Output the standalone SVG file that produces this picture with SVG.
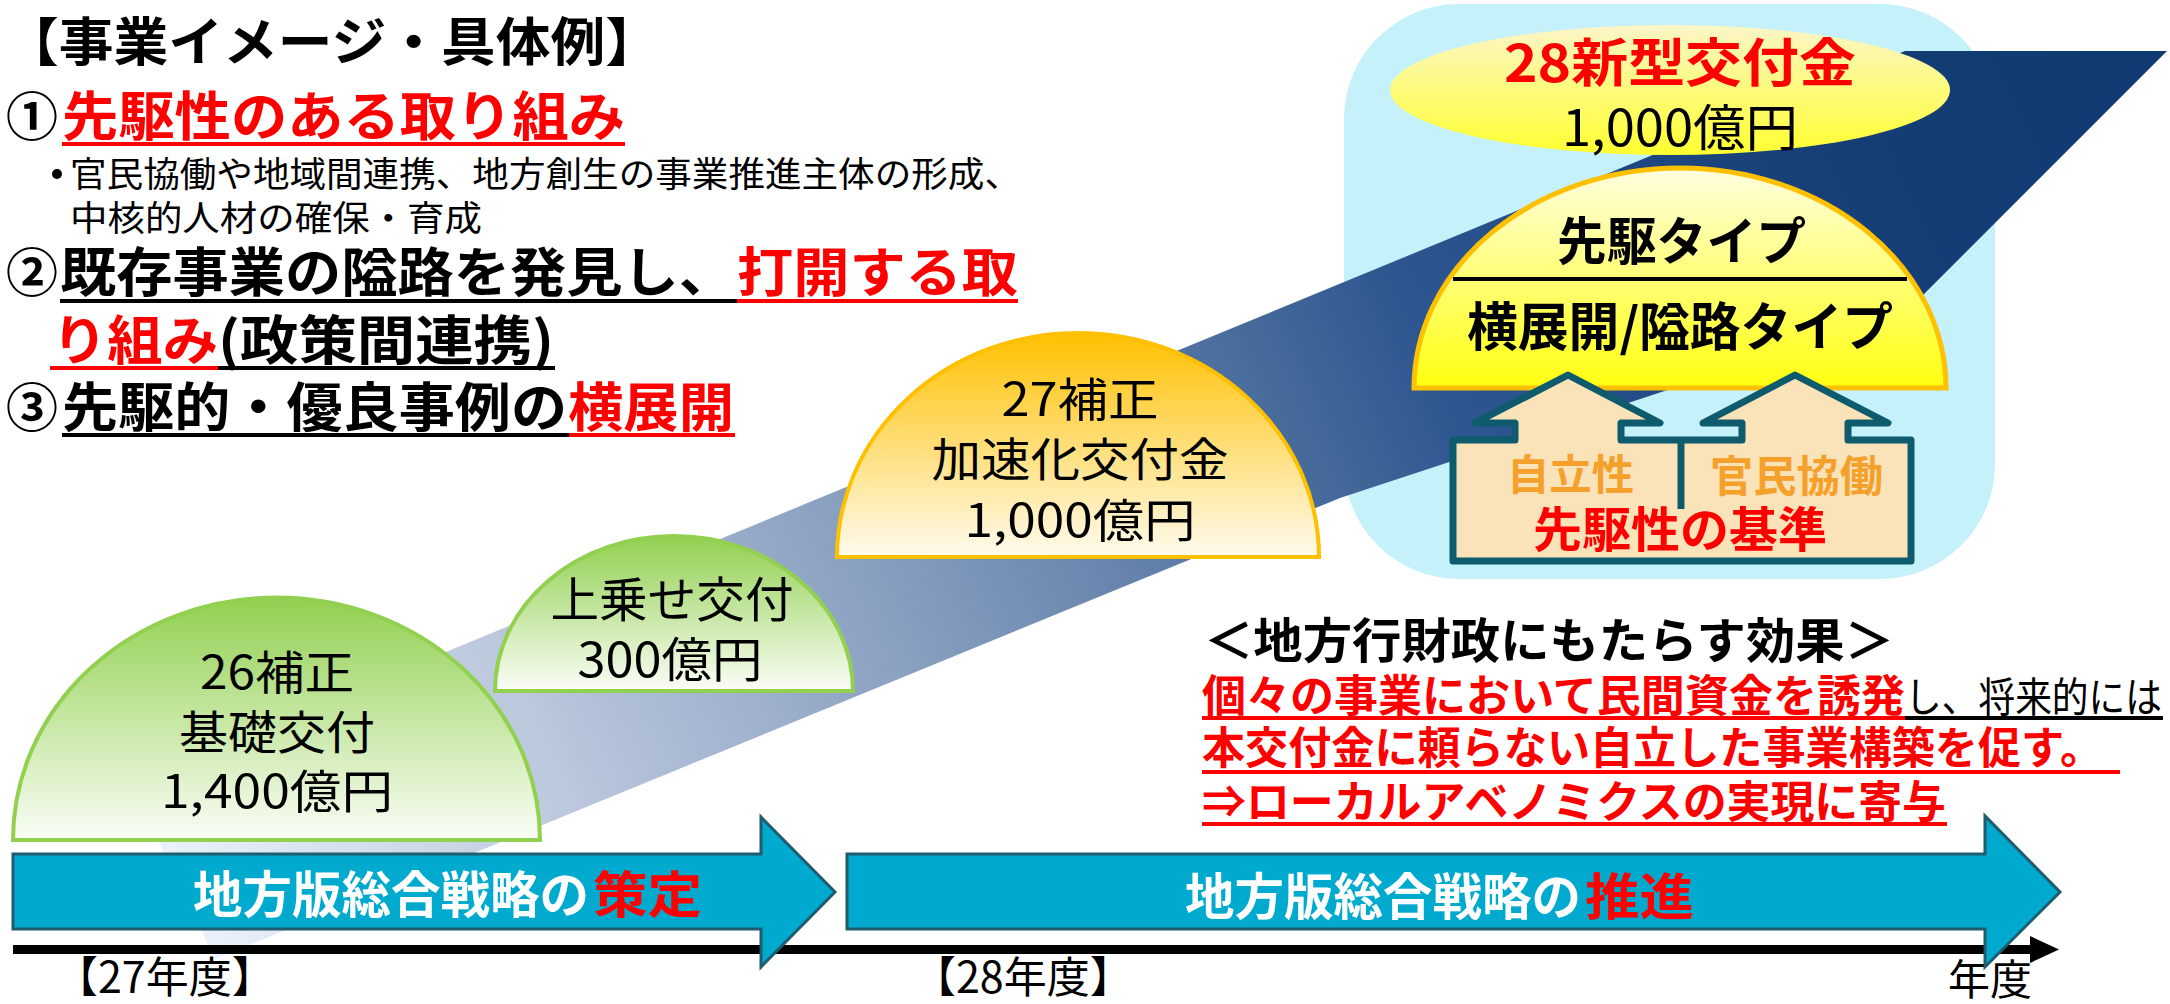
<svg xmlns="http://www.w3.org/2000/svg" width="2170" height="1004" viewBox="0 0 2170 1004">
<style>
text{font-family:'Noto Sans CJK JP','Noto Sans',sans-serif;}
.b{font-weight:700;}
.n{font-weight:400;}
.k{fill:#000;}
.r{fill:#FF0000;}
.w{fill:#FFFFFF;}
.o{fill:#F5A02A;}
.arrow{fill:#00AACF;stroke:#1F5C6E;stroke-width:3;stroke-linejoin:miter;}
</style>
<defs>
<linearGradient id="band" gradientUnits="userSpaceOnUse" x1="215" y1="959" x2="2100" y2="80">
<stop offset="0" stop-color="#EAF1FA"/>
<stop offset="0.19" stop-color="#BAC7DC"/>
<stop offset="0.36" stop-color="#8AA0C1"/>
<stop offset="0.58" stop-color="#456A9A"/>
<stop offset="0.65" stop-color="#2E5690"/>
<stop offset="0.85" stop-color="#173F78"/>
<stop offset="1" stop-color="#0F3A72"/>
</linearGradient>
<linearGradient id="green" x1="0" y1="0" x2="0" y2="1">
<stop offset="0" stop-color="#92D050"/>
<stop offset="1" stop-color="#FAFDF6"/>
</linearGradient>
<linearGradient id="gold" x1="0" y1="0" x2="0" y2="1">
<stop offset="0" stop-color="#FFC000"/>
<stop offset="1" stop-color="#FFFBEE"/>
</linearGradient>
<linearGradient id="yel" x1="0" y1="0" x2="0" y2="1">
<stop offset="0" stop-color="#FFFFE0"/>
<stop offset="1" stop-color="#FFFF10"/>
</linearGradient>
<linearGradient id="ell" x1="0" y1="0" x2="0" y2="1">
<stop offset="0" stop-color="#FBF6C8"/>
<stop offset="1" stop-color="#FFFF30"/>
</linearGradient>
</defs>

<g id="heading">
<text class="b k" x="4" y="61" font-size="52" textLength="656" lengthAdjust="spacingAndGlyphs">【事業イメージ・具体例】</text>
<text class="b k" x="6" y="136" font-size="52">①</text>
<text class="b r" x="62" y="136" font-size="53" textLength="563" lengthAdjust="spacingAndGlyphs">先駆性のある取り組み</text>
<rect x="62" y="142" width="563" height="4" fill="#FF0000"/>
<circle cx="57" cy="174" r="5" fill="#000"/>
<text class="n k" x="70" y="187" font-size="35" textLength="951" lengthAdjust="spacingAndGlyphs">官民協働や地域間連携、地方創生の事業推進主体の形成、</text>
<text class="n k" x="70" y="231" font-size="35" textLength="412" lengthAdjust="spacingAndGlyphs">中核的人材の確保・育成</text>
<text class="b k" x="6" y="292" font-size="52">②</text>
<text class="b k" x="60" y="292" font-size="53" textLength="675" lengthAdjust="spacingAndGlyphs">既存事業の隘路を発見し、</text>
<text class="b r" x="737" y="292" font-size="53" textLength="281" lengthAdjust="spacingAndGlyphs">打開する取</text>
<rect x="60" y="299" width="677" height="4" fill="#000"/>
<rect x="737" y="299" width="281" height="4" fill="#FF0000"/>
<text class="b r" x="52" y="360" font-size="53" textLength="166" lengthAdjust="spacingAndGlyphs">り組み</text>
<text class="b k" x="218" y="360" font-size="53" textLength="336" lengthAdjust="spacingAndGlyphs">(政策間連携)</text>
<rect x="50" y="366" width="168" height="4" fill="#FF0000"/>
<rect x="218" y="366" width="337" height="4" fill="#000"/>
<text class="b k" x="6" y="427" font-size="52">③</text>
<text class="b k" x="62" y="427" font-size="53" textLength="505" lengthAdjust="spacingAndGlyphs">先駆的・優良事例の</text>
<text class="b r" x="568" y="427" font-size="53" textLength="166" lengthAdjust="spacingAndGlyphs">横展開</text>
<rect x="62" y="433" width="507" height="4" fill="#000"/>
<rect x="569" y="433" width="166" height="4" fill="#FF0000"/>
</g>

<g id="panel">
<rect x="1344" y="4" width="651" height="575" rx="115" ry="115" fill="#C5F1FB"/>
</g>

<g id="band">
<polygon points="1905,51 2167,51 1907,311 1340,498 540,826 215,959 130,782" fill="url(#band)"/>
</g>

<g id="timeline">
<rect x="13" y="945" width="2020" height="9" fill="#000"/>
<polygon points="2030,936 2059,949.5 2030,963" fill="#000"/>
<text class="n k" x="55" y="993" font-size="43">【27年度】</text>
<text class="n k" x="913" y="993" font-size="43">【28年度】</text>
<text class="n k" x="1948" y="995" font-size="42">年度</text>
</g>

<g id="dome-26">
<path d="M13,840 A263,242 0 0 1 540,840 Z" fill="url(#green)" stroke="#92D050" stroke-width="4"/>
<text class="n k" x="277" y="689" font-size="46" text-anchor="middle" textLength="154" lengthAdjust="spacingAndGlyphs">26補正</text>
<text class="n k" x="277" y="749" font-size="46" text-anchor="middle" textLength="196" lengthAdjust="spacingAndGlyphs">基礎交付</text>
<text class="n k" x="277" y="808" font-size="46" text-anchor="middle" textLength="232" lengthAdjust="spacingAndGlyphs">1,400億円</text>
</g>

<g id="dome-uwanose">
<path d="M495,691 A179,155 0 0 1 853,691 Z" fill="url(#green)" stroke="#92D050" stroke-width="4"/>
<text class="n k" x="672" y="617" font-size="48" text-anchor="middle" textLength="243" lengthAdjust="spacingAndGlyphs">上乗せ交付</text>
<text class="n k" x="670" y="677" font-size="48" text-anchor="middle" textLength="185" lengthAdjust="spacingAndGlyphs">300億円</text>
</g>

<g id="dome-27">
<path d="M837,557 A241,224 0 0 1 1319,557 Z" fill="url(#gold)" stroke="#FFC000" stroke-width="4"/>
<text class="n k" x="1080" y="416" font-size="46" text-anchor="middle" textLength="157" lengthAdjust="spacingAndGlyphs">27補正</text>
<text class="n k" x="1080" y="476" font-size="46" text-anchor="middle" textLength="297" lengthAdjust="spacingAndGlyphs">加速化交付金</text>
<text class="n k" x="1080" y="537" font-size="46" text-anchor="middle" textLength="231" lengthAdjust="spacingAndGlyphs">1,000億円</text>
</g>

<g id="ellipse-28">
<ellipse cx="1670" cy="90" rx="280" ry="65" fill="url(#ell)"/>
<text class="b r" x="1504" y="82" font-size="52" textLength="352" lengthAdjust="spacingAndGlyphs">28新型交付金</text>
<text class="n k" x="1562" y="146" font-size="50" textLength="236" lengthAdjust="spacingAndGlyphs">1,000億円</text>
</g>

<g id="dome-types">
<path d="M1414,388 A266,220 0 0 1 1946,388 Z" fill="url(#yel)" stroke="#FFC000" stroke-width="5"/>
<line x1="1453" y1="279" x2="1907" y2="279" stroke="#000" stroke-width="4"/>
<text class="b k" x="1557" y="260" font-size="51" textLength="249" lengthAdjust="spacingAndGlyphs">先駆タイプ</text>
<text class="b k" x="1467" y="346" font-size="52" textLength="426" lengthAdjust="spacingAndGlyphs">横展開/隘路タイプ</text>
</g>

<g id="criteria">
<path d="M1453,440 H1515 V423 H1475 L1568,375 L1660,423 H1621 V440 H1742 V423 H1703 L1795,375 L1888,423 H1848 V440 H1911 V561 H1453 Z" fill="#FAE3B8" stroke="#0D5B6C" stroke-width="7" stroke-linejoin="round"/>
<line x1="1681" y1="440" x2="1681" y2="509" stroke="#0D5B6C" stroke-width="7"/>
<text class="b o" x="1507" y="490" font-size="42" textLength="127" lengthAdjust="spacingAndGlyphs">自立性</text>
<text class="b o" x="1710" y="492" font-size="43" textLength="173" lengthAdjust="spacingAndGlyphs">官民協働</text>
<text class="b r" x="1533" y="547" font-size="48" textLength="294" lengthAdjust="spacingAndGlyphs">先駆性の基準</text>
</g>

<g id="arrow-sakutei">
<polygon class="arrow" points="13,854 761,854 761,817 835,892 761,967 761,929 13,929"/>
<text class="b w" x="193" y="913" font-size="50" textLength="396" lengthAdjust="spacingAndGlyphs">地方版総合戦略の</text>
<text class="b r" x="593" y="913" font-size="50" textLength="109" lengthAdjust="spacingAndGlyphs">策定</text>
</g>

<g id="arrow-suishin">
<polygon class="arrow" points="847,854 1985,854 1985,816 2060,892 1985,967 1985,929 847,929"/>
<text class="b w" x="1185" y="915" font-size="50" textLength="396" lengthAdjust="spacingAndGlyphs">地方版総合戦略の</text>
<text class="b r" x="1585" y="915" font-size="50" textLength="109" lengthAdjust="spacingAndGlyphs">推進</text>
</g>

<g id="effects">
<text class="b k" x="1204" y="658" font-size="48" textLength="690" lengthAdjust="spacingAndGlyphs">＜地方行財政にもたらす効果＞</text>
<text class="b r" x="1202" y="712" font-size="44" textLength="703" lengthAdjust="spacingAndGlyphs">個々の事業において民間資金を誘発</text>
<text class="n k" x="1905" y="712" font-size="41" textLength="257" lengthAdjust="spacingAndGlyphs">し、将来的には</text>
<rect x="1202" y="716" width="703" height="4" fill="#FF0000"/>
<rect x="1905" y="716" width="258" height="4" fill="#000"/>
<text class="b r" x="1202" y="764" font-size="44" textLength="901" lengthAdjust="spacingAndGlyphs">本交付金に頼らない自立した事業構築を促す。</text>
<rect x="1202" y="770" width="918" height="4" fill="#FF0000"/>
<text class="b r" x="1202" y="818" font-size="44" textLength="744" lengthAdjust="spacingAndGlyphs">⇒ローカルアベノミクスの実現に寄与</text>
<rect x="1202" y="822" width="745" height="4" fill="#FF0000"/>
</g>
</svg>
